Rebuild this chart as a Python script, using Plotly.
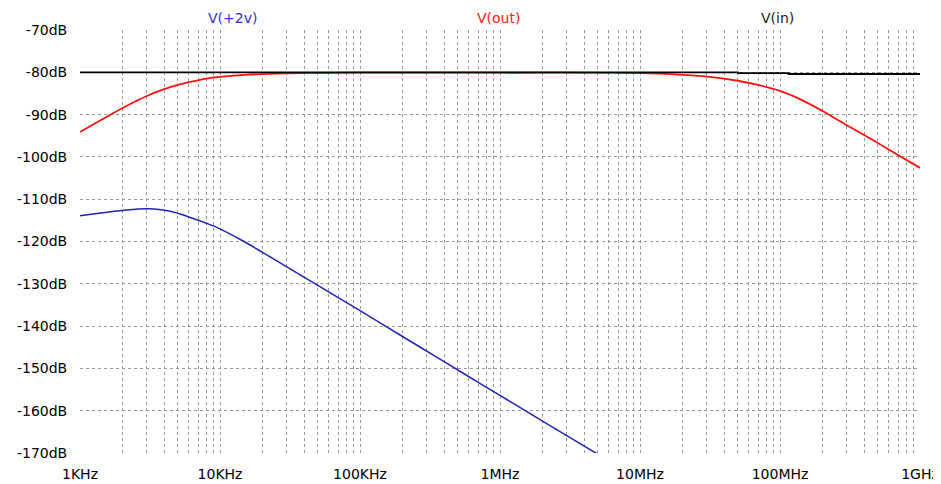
import plotly.graph_objects as go

# V(out) magnitude
freq_out = [1e3, 1.5e3, 2e3, 2.5e3, 3e3, 4e3, 5e3, 6e3, 8e3, 1e4, 1.6e4, 2.5e4, 4e4, 1e5,
            1e6, 1e7, 2e7, 3e7, 5e7, 7e7, 1e8, 1.4e8, 2e8, 3e8, 4.7e8, 7e8, 1e9]
v_out = [-94.1, -90.8, -88.5, -86.85, -85.6, -84.0, -83.0, -82.35, -81.5, -81.1, -80.55, -80.3, -80.18, -80.1,
         -80.1, -80.2, -80.6, -81.0, -82.0, -83.0, -84.4, -86.4, -89.1, -92.5, -96.2, -99.6, -102.6]

# V(in) magnitude
freq_in = [1e3, 5e7, 1.15e8, 1e9]
v_in = [-80.0, -80.2, -80.4, -80.4]

# V(+2v) magnitude
freq_2v = [1e3, 1.28e3, 1.6e3, 2e3, 2.6e3, 3.4e3, 4.5e3, 6e3, 8.3e3, 1e4, 1.43e4, 2e4,
           2.9e4, 4.9e4, 7.8e4, 1e5, 2e5, 3.7e5, 4.9e5, 1e6, 2e6, 3e6, 5e6]
v_2v = [-113.9, -113.45, -113.0, -112.65, -112.3, -112.3, -112.9, -114.2, -115.9, -117.0, -119.7, -122.5,
        -125.7, -130.2, -134.2, -136.35, -142.4, -147.75, -150.2, -156.4, -162.4, -165.9, -170.3]

x_decades = [1e3, 1e4, 1e5, 1e6, 1e7, 1e8, 1e9]
x_labels = ["1KHz", "10KHz", "100KHz", "1MHz", "10MHz", "100MHz", "1GHz"]
y_ticks = [-70, -80, -90, -100, -110, -120, -130, -140, -150, -160, -170]
y_labels = [f"{v}dB" for v in y_ticks]

x_tickvals, x_ticktext = [], []
for i, d in enumerate(x_decades):
    x_tickvals.append(d)
    x_ticktext.append(x_labels[i])
    if i < len(x_decades) - 1:
        for m in range(2, 10):
            x_tickvals.append(d * m)
            x_ticktext.append("")

fig = go.Figure()
fig.add_trace(go.Scatter(x=freq_2v, y=v_2v, mode="lines",
                         line=dict(color="#2222b4", width=1.5, shape="spline", smoothing=1.0),
                         name="V(+2v)"))
fig.add_trace(go.Scatter(x=freq_out, y=v_out, mode="lines",
                         line=dict(color="#ff1010", width=1.8, shape="spline", smoothing=1.0),
                         name="V(out)"))
fig.add_trace(go.Scatter(x=freq_in, y=v_in, mode="lines", line=dict(color="#000000", width=1.8, shape="hv"),
                         name="V(in)"))

font = dict(family="DejaVu Sans", size=14, color="#000000")

# the page body adds an 8px offset, so the figure is sized to fit the window
fig.update_layout(
    width=933, height=476,
    margin=dict(l=72, r=21, t=22, b=31, autoexpand=False),
    paper_bgcolor="white", plot_bgcolor="white",
    showlegend=False,
    font=font,
    xaxis=dict(type="log", range=[3, 9], tickvals=x_tickvals, ticktext=x_ticktext,
               showgrid=True, gridcolor="#9a9a9a", griddash="dot", gridwidth=1,
               showline=False, zeroline=False, ticks="outside", ticklen=8,
               tickcolor="rgba(0,0,0,0)", tickfont=font, automargin=False),
    yaxis=dict(range=[-170, -70], tickvals=y_ticks, ticktext=y_labels,
               showgrid=True, gridcolor="#9a9a9a", griddash="dot", gridwidth=1,
               showline=False, zeroline=False, ticks="outside", ticklen=9,
               tickcolor="rgba(0,0,0,0)", tickfont=font, automargin=False),
)

for txt, xc, col in [("V(+2v)", 232, "#3333cc"), ("V(out)", 498, "#ff2020"), ("V(in)", 777, "#222222")]:
    fig.add_annotation(text=txt, xref="paper", yref="paper", x=(xc - 80) / 840, y=1.0,
                       xanchor="center", yanchor="middle", yshift=12, showarrow=False,
                       font=dict(family="DejaVu Sans", size=14, color=col))

fig.write_html("out.html")
